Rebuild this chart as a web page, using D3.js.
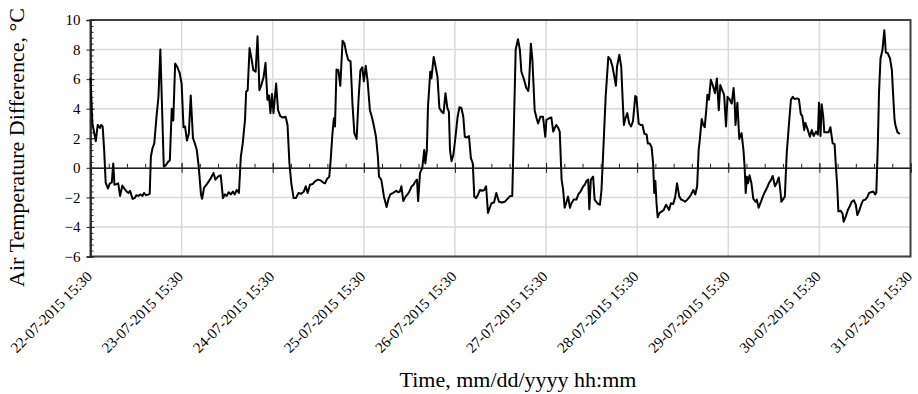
<!DOCTYPE html>
<html>
<head>
<meta charset="utf-8">
<script src="https://cdn.jsdelivr.net/npm/d3@7"></script>
<style>
  body { margin: 0; background: #fff; }
  svg { display: block; }
  svg text { font-family: "Liberation Serif", "Times New Roman", serif; fill: #000; }
</style>
</head>
<body>
<svg id="chart" width="918" height="394"></svg>
<script>
// day labels on the time axis
const dayTicks = ["22-07-2015 15:30", "23-07-2015 15:30", "24-07-2015 15:30", "25-07-2015 15:30",
  "26-07-2015 15:30", "27-07-2015 15:30", "28-07-2015 15:30", "29-07-2015 15:30",
  "30-07-2015 15:30", "31-07-2015 15:30"];
const yTicks = [-6, -4, -2, 0, 2, 4, 6, 8, 10];

// hours elapsed since 22-07-2015 15:30
const hours = [0,0.5,1.4,1.9,2.5,2.8,3.2,3.6,4.0,4.6,5.1,5.6,6.0,6.3,6.8,7.3,7.8,8.4,8.9,9.5,10.0,10.4,11.1,11.6,12.1,12.6,13.2,13.7,14.1,14.6,15.3,15.6,15.9,16.3,16.8,17.4,17.9,18.4,19.3,19.8,20.4,20.9,21.4,21.8,22.3,22.9,23.5,24.0,24.5,24.9,25.4,25.9,26.4,
  27.0,27.5,28.0,28.5,29.1,29.4,29.9,30.5,31.2,31.7,32.4,32.9,33.6,34.3,34.9,35.4,35.9,36.4,37.0,37.5,38.0,38.5,39.1,39.6,40.1,40.7,41.0,41.4,41.9,42.4,42.9,43.5,44.0,44.5,45.0,45.6,46.1,46.6,47.0,47.4,47.8,48.2,48.9,49.4,50.0,50.7,51.4,51.9,52.4,52.9,53.5,
  54.1,54.8,55.5,56.2,56.7,57.2,57.8,58.5,59.2,59.9,60.6,61.3,61.8,62.3,62.9,63.2,63.7,64.1,64.4,64.8,65.3,65.8,66.4,66.9,67.4,67.9,68.5,69.0,69.5,70.1,70.6,71.1,71.6,72.0,72.5,73.0,73.6,74.1,74.6,75.2,75.7,76.0,76.6,77.3,78.0,78.5,79.0,79.7,80.6,
  81.0,81.5,81.9,82.4,83.0,83.5,84.0,84.6,85.1,85.6,86.0,86.3,86.8,87.4,87.9,88.2,88.6,88.9,89.5,89.8,90.4,90.9,91.4,91.9,92.5,93.0,93.5,94.0,94.4,94.7,95.1,95.6,96.1,96.7,97.2,97.7,98.2,98.6,99.1,99.7,100.2,100.7,101.1,101.6,102.1,102.6,103.2,103.7,104.2,104.7,
  105.6,106.3,106.9,107.6,108.4,109.1,110.0,110.6,111.1,112.0,112.6,113.1,113.5,114.1,114.8,115.3,115.5,116.0,116.4,117.0,117.5,117.9,118.5,119.2,119.8,120.1,120.8,121.4,121.9,122.3,122.7,123.2,123.6,124.1,124.5,124.9,125.4,125.8,126.3,126.7,127.3,128.0,128.5,129.1,129.8,130.2,130.6,131.1,131.4,131.8,132.4,132.8,133.5,134.2,
  134.6,135.0,135.7,136.4,137.0,137.5,138.0,138.4,138.7,139.3,139.8,140.1,140.5,140.8,141.4,141.9,142.4,142.9,143.5,143.8,144.4,144.9,145.4,145.9,146.5,146.8,147.3,147.8,148.2,148.5,148.8,149.1,149.4,149.9,150.5,151.0,151.6,152.1,152.4,152.9,153.5,154.0,154.5,155.1,155.6,156.1,156.6,157.2,157.7,158.2,158.8,159.3,159.8,160.2,160.5,161.0,161.4,161.8,
  162.2,162.5,162.9,163.4,163.9,164.5,165.0,165.5,165.9,166.4,166.9,167.4,167.8,168.3,168.9,169.4,169.7,169.9,170.4,170.9,171.5,172.0,172.3,172.6,172.9,173.2,173.6,174.1,174.6,175.2,175.5,176.0,176.6,177.1,177.6,178.2,178.7,179.2,179.7,180.3,180.8,181.3,181.7,182.0,182.5,182.9,183.4,184.0,184.5,185.0,185.5,186.1,186.6,187.1,187.5,188.0,188.3,188.9,
  189.5,190.0,190.5,191.1,191.6,191.9,192.3,192.6,193.0,193.3,193.9,194.4,194.9,195.5,196.0,196.3,196.7,197.0,197.6,198.1,198.4,199.0,199.5,200.0,200.5,201.1,201.6,202.0,202.5,203.0,203.5,204.1,204.6,205.1,205.6,206.2,206.7,207.0,207.4,207.7,208.1,208.6,209.1,209.5,210.0,210.6,211.1,211.4,211.8,212.1,212.6,213.2];

// air temperature difference, °C
const diff = [6.1,3.0,1.8,2.9,2.7,2.9,2.8,1.2,-1.0,-1.4,-1.05,-1.0,0.3,-1.15,-1.1,-1.05,-1.9,-1.2,-1.4,-1.6,-1.7,-1.55,-2.1,-2.05,-1.85,-1.9,-1.8,-1.9,-1.7,-1.85,-1.8,-1.75,0.75,1.3,1.65,3.5,4.8,8.0,0.1,0.15,0.4,0.5,4.0,3.2,7.05,6.8,6.4,5.7,2.75,2.8,1.85,2.3,4.9,
  2.0,1.65,1.2,0.1,-1.8,-2.1,-1.35,-1.15,-0.9,-0.7,-0.35,-0.8,-0.6,-0.5,-2.05,-1.8,-1.9,-1.65,-1.8,-1.6,-1.8,-1.5,-1.7,0.75,1.65,3.25,5.15,5.25,8.1,7.4,6.6,6.5,8.9,5.25,5.6,6.15,7.1,4.6,4.9,3.7,5.0,3.7,5.7,3.9,3.5,3.4,3.45,2.9,0.3,-1.05,-2.05,
  -2.05,-1.7,-1.75,-1.6,-1.25,-1.7,-1.15,-1.1,-0.9,-0.8,-0.85,-1.0,-1.05,-0.75,-0.6,0.3,2.2,3.35,2.8,6.65,6.6,5.55,8.6,8.4,7.75,7.3,7.2,4.35,2.35,1.95,4.6,6.6,6.8,5.85,6.9,5.85,3.9,3.45,2.9,2.1,0.75,-0.6,-0.8,-1.95,-2.65,-2.1,-1.8,-1.7,-1.55,
  -1.65,-1.6,-1.25,-2.25,-1.95,-1.8,-1.6,-1.25,-1.15,-0.9,-0.8,-2.25,-0.35,0,1.2,0.3,1.2,4.15,6.5,6.05,7.5,6.85,6.15,4.05,3.8,3.7,5.05,4.05,3.8,1.2,0.45,0.9,2.0,3.45,4.1,4.05,3.45,2.1,2.05,2.15,0.65,0.3,-1.95,-2.05,-1.8,-1.5,-1.55,-1.5,-1.25,-3.05,
  -2.4,-2.35,-1.7,-2.3,-2.35,-2.3,-2.05,-1.9,-1.9,8.0,8.7,8.0,6.5,6.05,5.4,5.2,5.6,8.4,7.3,3.9,3.35,3.0,3.45,3.45,2.1,3.25,3.35,3.4,2.45,2.7,2.9,2.7,2.45,-0.8,-1.5,-2.7,-2.3,-1.95,-2.7,-2.4,-2.15,-2.15,-1.8,-1.6,-1.25,-1.15,-0.9,-0.8,-2.8,-0.8,-0.6,-2.15,-2.4,-2.5,
  -1.5,0.75,4.8,7.5,7.3,6.85,6.15,5.55,6.85,7.65,6.85,5.05,2.9,3.25,3.7,3.0,2.8,3.15,4.85,4.8,3.0,2.9,2.9,2.3,2.25,1.65,1.65,1.4,0.3,-1.7,-0.9,-2.4,-3.35,-3.05,-2.95,-2.85,-2.5,-2.7,-2.85,-2.4,-2.45,-2.0,-1.05,-1.95,-2.15,-2.2,-2.3,-2.15,-2.0,-1.8,-1.5,-1.8,-1.25,1.2,1.9,3.3,2.9,2.75,
  3.9,4.95,4.6,5.95,5.6,5.05,6.05,3.9,5.6,5.25,4.95,2.8,4.8,4.65,4.35,5.4,4.35,2.9,4.4,1.95,2.35,1.2,0.1,-1.7,-0.6,-1.05,-0.5,-1.05,-2.1,-2.3,-2.15,-2.7,-2.3,-1.95,-1.65,-1.35,-1.05,-0.85,-0.55,-1.25,-1.0,-0.65,-1.5,-2.3,-2.1,-1.95,1.0,3.0,4.6,4.8,4.65,4.7,4.65,3.65,3.5,2.55,3.05,2.6,
  2.1,2.55,2.15,2.45,2.25,4.4,2.15,4.3,3.5,2.4,2.4,2.4,2.75,1.65,1.6,0.3,-1.25,-2.95,-2.9,-3.1,-3.65,-3.25,-2.85,-2.6,-2.3,-2.2,-2.5,-3.2,-2.9,-2.5,-2.2,-2.15,-2.0,-1.7,-1.65,-1.6,-1.8,-1.65,1.65,5.05,7.4,7.95,9.3,7.8,7.75,7.4,6.6,5.05,3.25,2.8,2.4,2.3];

const parseTime = d3.timeParse("%d-%m-%Y %H:%M");
const fmtTime = d3.timeFormat("%d-%m-%Y %H:%M");
const days = dayTicks.map(parseTime);
const start = days[0];
const data = hours.map((h, i) => ({ t: d3.timeMinute.offset(start, Math.round(h * 60)), v: diff[i] }));

const svg = d3.select("#chart");
const plotLeft = 90.5, plotRight = 910.5, plotTop = 20, plotBottom = 256.5;
const serif = "'Liberation Serif', 'Times New Roman', serif";

const x = d3.scaleTime().domain([days[0], days[days.length - 1]]).range([plotLeft, plotRight]);
const y = d3.scaleLinear().domain([-6, 10]).range([plotBottom, plotTop]);

// gridlines
svg.append("g").selectAll("line").data(yTicks).join("line")
  .attr("x1", plotLeft).attr("x2", plotRight)
  .attr("y1", d => y(d)).attr("y2", d => y(d))
  .attr("stroke", "#d9d9d9").attr("stroke-width", 1.5);
svg.append("g").selectAll("line").data(days).join("line")
  .attr("x1", d => x(d)).attr("x2", d => x(d))
  .attr("y1", plotTop).attr("y2", plotBottom)
  .attr("stroke", "#d9d9d9").attr("stroke-width", 1.5);

// plot border
svg.append("rect")
  .attr("x", plotLeft).attr("y", plotTop)
  .attr("width", plotRight - plotLeft).attr("height", plotBottom - plotTop)
  .attr("fill", "none").attr("stroke", "#404040").attr("stroke-width", 2);

// y axis: major ticks crossing, minor ticks inside
const yMinor = d3.range(-6, 10.01, 0.4).map(d => +d.toFixed(1));
svg.append("g").attr("transform", `translate(${plotLeft},0)`)
  .call(d3.axisRight(y).tickValues(yMinor).tickSize(3).tickFormat(""))
  .call(g => g.select(".domain").remove())
  .call(g => g.selectAll(".tick line").attr("stroke", "#222"));
svg.append("g").attr("transform", `translate(${plotLeft},0)`)
  .call(d3.axisLeft(y).tickValues(yTicks).tickSize(4).tickFormat(d3.format("d")))
  .attr("font-family", serif).attr("font-size", 15)
  .call(g => g.select(".domain").attr("stroke", "#222").attr("stroke-width", 1.5))
  .call(g => g.selectAll(".tick line").attr("x2", 4).attr("x1", -4).attr("stroke", "#222"))
  .call(g => g.selectAll("text").attr("x", -10).style("font-family", serif));

// zero axis with ticks
const xMinor = d3.range(0, 216.01, 4.8).map(h => d3.timeMinute.offset(start, Math.round(h * 60)));
svg.append("g").attr("transform", `translate(0,${y(0)})`)
  .call(d3.axisTop(x).tickValues(xMinor).tickSize(4).tickFormat(""))
  .call(g => g.select(".domain").remove())
  .call(g => g.selectAll(".tick line").attr("stroke", "#222"));
svg.append("g").attr("transform", `translate(0,${y(0)})`)
  .call(d3.axisBottom(x).tickValues(days).tickSize(5).tickFormat(""))
  .call(g => g.select(".domain").attr("stroke", "#222").attr("stroke-width", 1.5))
  .call(g => g.selectAll(".tick line").attr("y1", -5).attr("stroke", "#222"));

// date labels at the bottom
svg.append("g").attr("transform", `translate(0,${plotBottom})`)
  .call(d3.axisBottom(x).tickValues(days).tickSize(0).tickFormat(fmtTime))
  .attr("font-family", serif).attr("font-size", 15)
  .call(g => g.select(".domain").remove())
  .call(g => g.selectAll("text")
    .attr("x", 0).attr("y", 0).attr("dy", null)
    .attr("transform", "translate(2,21) rotate(-45)")
    .attr("text-anchor", "end")
    .style("font-family", serif));

// series
const line = d3.line().x(d => x(d.t)).y(d => y(d.v));
svg.append("path").datum(data)
  .attr("d", line)
  .attr("fill", "none").attr("stroke", "#000")
  .attr("stroke-width", 2).attr("stroke-linejoin", "round");

// axis titles
svg.append("text")
  .attr("x", 518).attr("y", 387)
  .attr("text-anchor", "middle")
  .style("font-size", "22px")
  .text("Time, mm/dd/yyyy hh:mm");
svg.append("text")
  .attr("transform", "translate(24,147.5) rotate(-90)")
  .attr("text-anchor", "middle")
  .style("font-size", "22px")
  .text("Air Temperature Difference, °C");
</script>
</body>
</html>
